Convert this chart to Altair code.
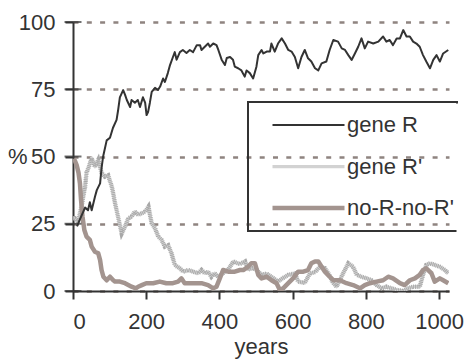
import altair as alt
import pandas as pd

# --- series values (percent of population) ---
gene_r_years = [11, 20, 33, 41, 46, 51, 60, 65, 74, 78, 82, 92, 101, 109, 119, 123, 128, 137, 142,
                147, 156, 160, 169, 177, 183, 191, 197, 201, 205, 210, 215, 224, 232, 238, 246, 251,
                259, 265, 273, 278, 283, 292, 300, 310, 319, 328, 338, 347, 351, 360, 369, 374, 383,
                392, 397, 406, 415, 420, 429, 437, 442, 451, 460, 469, 474, 483, 492, 501, 506, 515,
                520, 529, 538, 542, 551, 560, 570, 579, 588, 597, 606, 615, 624, 633, 642, 651, 661,
                670, 679, 692, 701, 711, 724, 734, 743, 752, 761, 770, 779, 788, 797, 806, 820, 834,
                847, 856, 865, 874, 884, 893, 902, 911, 920, 929, 938, 947, 956, 965, 975, 984, 993,
                1002, 1011, 1025]
gene_r_vals = [24, 27, 31, 30, 33, 30, 35, 37.5, 40, 45.7, 49.8, 56, 57, 60.6, 63.6, 67, 72, 74.7, 73,
               71, 68.4, 71, 70, 71, 68.4, 72, 70, 65.4, 66.5, 70, 74, 75.5, 74.7, 76, 79, 77.7,
               81, 84, 87, 88.8, 86, 88.8, 89.6, 88.5, 89.6, 88.8, 91.4, 91.4, 89.6, 90.8, 92, 90.8, 92,
               91.4, 89.6, 86, 84, 86.6, 87, 86, 83.4, 82.8, 82, 79.7, 82, 81, 79, 83.4, 87.7, 89.6,
               88.3, 89, 89, 92, 89, 92, 93.9, 92, 89.6, 89, 87, 82.8, 87, 89.6, 86.5, 85.3, 82.8,
               82, 84.6, 85.3, 89.6, 93.3, 92.7, 90.2, 89.6, 87.7, 85.9, 88.3, 90.8, 93.9, 90.2, 92.7, 92, 92.7,
               94.6, 92.7, 93.3, 91.4, 93.9, 93.9, 97, 94.6, 94.6, 92.7, 92, 90.8, 87.7, 85.3, 82.8, 85.9, 87.7,
               85.3, 88.3, 89.6]

gene_r2_years = [0, 5, 14, 24, 33, 37, 42, 51, 60, 69, 78, 87, 96, 106, 115, 124, 133, 142, 151, 160,
                 169, 178, 188, 197, 206, 215, 224, 233, 242, 251, 260, 269, 278, 292, 301, 315, 328,
                 342, 351, 360, 369, 378, 387, 396, 410, 424, 438, 455, 470, 478, 490, 501, 515, 529,
                 545, 560, 570, 588, 606, 615, 633, 647, 661, 674, 688, 700, 710, 720, 738, 752, 765,
                 775, 788, 802, 815, 829, 843, 856, 870, 884, 902, 915, 929, 947, 956, 965, 975, 988,
                 1002, 1016, 1025]
gene_r2_vals = [27, 27, 25.8, 32, 38.8, 44, 45.7, 49.4, 46.2, 48.7, 43.9, 42.5, 43, 38.8, 32.6, 27, 21.4,
                23.9, 27, 27.6, 29.5, 28.3, 28.9, 29.5, 31.3, 25.2, 23.3, 20.2, 19, 16.5, 17, 14, 9.7,
                8.4, 7.2, 7.8, 7.2, 6.6, 7.8, 6.6, 7.2, 5.3, 6.6, 5.3, 6.6, 8, 11, 10, 11, 8, 8.5, 8, 6,
                6.5, 5, 3.5, 4.5, 6, 6.5, 3.5, 3, 6.5, 7, 9, 8.5, 6, 3, 1.6, 6.6, 10.3, 9, 6, 5.3, 4.7,
                4, 2.2, 1, 1.6, 1, 0.4, 0, 1, 1.6, 1.6, 6, 9.7, 10.3, 9.7, 9, 7.8, 6.6]

neither_years = [0, 5, 10, 15, 19, 22, 26, 31, 37, 46, 51, 60, 69, 74, 78, 83, 92, 101, 110, 115, 128,
                 142, 160, 172, 178, 188, 200, 219, 237, 255, 273, 287, 296, 305, 319, 333, 351, 369,
                 383, 392, 401, 410, 424, 442, 456, 465, 478, 487, 497, 506, 515, 529, 542, 556, 565,
                 574, 588, 601, 615, 629, 642, 651, 661, 670, 679, 688, 701, 711, 729, 747, 765, 784,
                 797, 811, 829, 847, 861, 874, 893, 906, 920, 934, 947, 956, 965, 979, 988, 1002, 1011,
                 1025]
neither_vals = [48, 48.5, 46.8, 44, 40, 33.8, 27.6, 22.7, 20.2, 19, 16.5, 14.6, 14, 11.5, 7.8, 5.3, 4,
                5.3, 4, 3.5, 3.5, 2.9, 1.6, 1, 1.6, 2.2, 2.9, 2.9, 3.5, 2.9, 2.9, 3.5, 4.7, 2.9, 2.9,
                2.9, 2.9, 2.2, 1, 1.6, 4.7, 7.8, 7.2, 7.2, 7.8, 7.8, 9, 10.3, 10.3, 6, 4.7, 5.3, 4, 2.9,
                0.4, 1, 2.9, 4.7, 7.2, 7.2, 7.8, 10.3, 11, 11, 9, 7.2, 5.3, 4, 4, 2.9, 2.2, 1, 2.2, 2.9,
                3.5, 4, 5.3, 4.7, 2.9, 2.2, 4, 4.7, 6, 7.8, 8.4, 6.6, 3.5, 4.7, 4, 2.9]

series_names = ["gene R", "gene R'", "no-R-no-R'"]
series_colors = ["#333333", "#d2d2d2", "#a3948f"]
series_widths = [2, 4.5, 5]

y_ticks = [0, 25, 50, 75, 100]
x_ticks = [0, 100, 200, 300, 400, 500, 600, 700, 800, 900, 1000]

frames = []
for name, yrs, vals in zip(series_names,
                           [gene_r_years, gene_r2_years, neither_years],
                           [gene_r_vals, gene_r2_vals, neither_vals]):
    frames.append(pd.DataFrame({"year": yrs, "pct": vals, "series": name}))
df = pd.concat(frames, ignore_index=True)

FONT = "Liberation Sans"
INK = "#333333"

x_enc = alt.X("year:Q",
              scale=alt.Scale(domain=[0, 1027], nice=False),
              axis=alt.Axis(values=x_ticks, format="d",
                            labelExpr="datum.value % 200 == 0 ? datum.label : ''",
                            title="years", grid=False, tickSize=8, labelPadding=12,
                            titlePadding=4))
y_enc = alt.Y("pct:Q",
              scale=alt.Scale(domain=[0, 100], nice=False),
              axis=alt.Axis(values=y_ticks, title="%", titleAngle=0, titleAlign="right",
                            titleBaseline="middle", titleX=-46, titleY=134,
                            tickSize=8, labelPadding=10,
                            grid=True, gridDash=[5, 8.3], gridColor="#8f8480", gridWidth=2.5))

legend = alt.Legend(title=None, orient="none", legendX=175, legendY=80,
                    symbolType="stroke", symbolSize=5184, clipHeight=40, rowPadding=1.5,
                    padding=3, symbolOffset=19, labelOffset=0, labelLimit=600,
                    strokeColor=INK, labelFontSize=22, labelFont=FONT, labelColor=INK)

color_enc = alt.Color("series:N", scale=alt.Scale(domain=series_names, range=series_colors),
                      legend=legend)
width_enc = alt.StrokeWidth("series:N",
                            scale=alt.Scale(domain=series_names, range=series_widths),
                            legend=legend)

base = alt.Chart(df)

def series_layer(name):
    return base.transform_filter(alt.datum.series == name).mark_line(
        strokeJoin="round", clip=True
    ).encode(x=x_enc, y=y_enc, color=color_enc, strokeWidth=width_enc, order="year:Q")

# speckled texture on top of the light grey series
texture = base.transform_filter(alt.datum.series == "gene R'").mark_line(
    color="#a8a8a8", strokeWidth=4.5, strokeDash=[0.9, 0.9], clip=True
).encode(x="year:Q", y="pct:Q", order="year:Q")

# y-axis ticks cross the axis line
tick_df = pd.DataFrame({"pct": y_ticks})
cross_ticks = alt.Chart(tick_df).mark_tick(
    color=INK, thickness=2, size=17, orient="horizontal"
).encode(x=alt.datum(0), y="pct:Q")

chart = alt.layer(
    series_layer("gene R'"), texture, series_layer("no-R-no-R'"), series_layer("gene R"),
    cross_ticks
).properties(
    width=376, height=269,
    autosize=alt.AutoSizeParams(type="none"),
    padding={"left": 73, "top": 22, "right": 26, "bottom": 69},
).configure_view(stroke=None).configure_axis(
    labelFont=FONT, titleFont=FONT, labelFontSize=22, titleFontSize=22,
    labelColor=INK, titleColor=INK, titleFontWeight="normal",
    domainColor=INK, domainWidth=2, tickColor=INK, tickWidth=2,
).configure_legend(
    # legend box left open on its right side
    strokeWidth=2, strokeDash=[210.5, 128, 600],
)

chart.save("out.html", embed_options={"renderer": "svg", "actions": False})
